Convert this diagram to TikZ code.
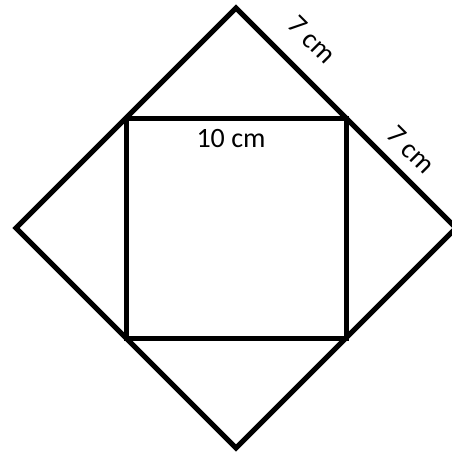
\documentclass[tikz,border=0pt]{standalone}
\usepackage{fontspec}
\setmainfont{Carlito}
\usetikzlibrary{calc}
\begin{document}
\begin{tikzpicture}[x=0.75pt,y=-0.75pt,line width=3.75pt,line join=miter,
  lbl/.style={inner sep=0pt,font=\fontsize{21}{25}\selectfont}]
\useasboundingbox (0,0) rectangle (452,457);
\coordinate (top) at (236,8);
\coordinate (right) at (456,228);
\coordinate (bottom) at (236,448);
\coordinate (left) at (16,228);
\draw (top) -- (right) -- (bottom) -- (left) -- cycle;
\draw ($(top)!0.5!(left)$) rectangle ($(right)!0.5!(bottom)$);
\node[lbl,rotate=-45] (uppera) at (312,40) {7 cm};
\node[lbl,rotate=-45] (upperb) at (411,150) {7 cm};
\node[lbl] (sqside) at (231,139) {10 cm};
\end{tikzpicture}
\end{document}
